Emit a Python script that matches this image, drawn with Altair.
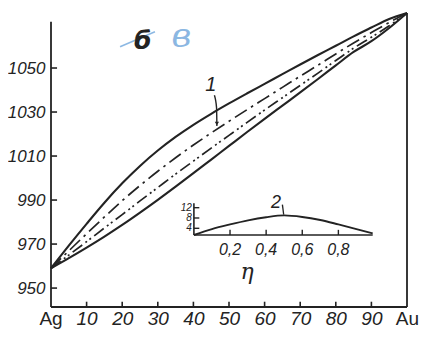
import altair as alt
import pandas as pd

# ---------------- data ----------------
# main diagram: composition (% Au) vs temperature
au_pct = [0, 5, 10, 15, 20, 25, 30, 35, 40, 45, 50, 55, 60, 65, 70, 75, 80, 85, 90, 95, 100]
t_upper = [959, 969.3, 979.2, 988.8, 997.6, 1005.5, 1012.5, 1018.7, 1024.2, 1029.2, 1033.9,
           1038.4, 1042.8, 1047.2, 1051.6, 1055.9, 1060.1, 1064.4, 1068.4, 1072.3, 1075]
t_dash_dot = [959, 966.9, 974.7, 982.3, 989.7, 996.6, 1003.1, 1009.2, 1015.0, 1020.5, 1025.8,
              1031.0, 1036.1, 1041.2, 1046.3, 1051.3, 1056.4, 1061.4, 1066.1, 1070.7, 1075]
t_dash_dot_dot = [959, 965.0, 971.1, 977.3, 983.4, 989.6, 995.7, 1001.8, 1007.7, 1013.6, 1019.4,
                  1025.2, 1030.9, 1036.5, 1042.1, 1047.7, 1053.4, 1059.0, 1064.0, 1069.2, 1075]
t_lower = [959, 963.6, 968.4, 973.4, 978.7, 984.3, 990.1, 996.1, 1002.2, 1008.4, 1014.6,
           1020.8, 1026.9, 1032.9, 1038.9, 1045.0, 1051.2, 1057.3, 1062.2, 1068.2, 1075]

y_ticks = [950, 970, 990, 1010, 1030, 1050]
x_ticks = [10, 20, 30, 40, 50, 60, 70, 80, 90]
x_end_pos = [0, 100]
x_end_labels = ["Ag", "Au"]

# inset: curve 2 vs eta
eta = [0, 0.1, 0.2, 0.3, 0.4, 0.5, 0.6, 0.7, 0.8, 0.9, 0.99]
curve2 = [1.4, 3.7, 5.5, 7.1, 8.3, 9.0, 8.4, 7.2, 5.5, 3.7, 2.0]
eta_ticks = [0.2, 0.4, 0.6, 0.8]
eta_tick_labels = ["0,2", "0,4", "0,6", "0,8"]
v_ticks = [4, 8, 12]
v_tick_labels = ["4", "8", "12"]

# ---------------- layout / style ----------------
W, H = 356, 294
T_MIN, T_MAX = 941.4, 1075
INK = "#232323"
BLUE = "#6fa6dc"
NUM_FONT = "Liberation Sans"

xs = alt.Scale(domain=[0, 100], nice=False, zero=False)
ys = alt.Scale(domain=[T_MIN, T_MAX], nice=False, zero=False)
x_axis = alt.Axis(values=x_ticks, title=None, domain=False, ticks=False, tickSize=0, grid=False,
                  labelPadding=2, labelFont=NUM_FONT, labelFontSize=19, labelFontStyle="italic",
                  labelColor=INK, labelAngle=0, labelFlush=False, labelOverlap=False, format="d")
y_axis = alt.Axis(values=y_ticks, title=None, domain=False, ticks=False, tickSize=0, grid=False,
                  labelPadding=6, labelFont=NUM_FONT, labelFontSize=17, labelFontStyle="italic",
                  labelColor=INK, labelFlush=False, labelOverlap=False, format="d")


def X(field="x"):
    return alt.X(f"{field}:Q", scale=xs, axis=x_axis)


def Y(field="T"):
    return alt.Y(f"{field}:Q", scale=ys, axis=y_axis)


curves = pd.DataFrame({
    "x": au_pct * 4,
    "T": t_upper + t_dash_dot + t_dash_dot_dot + t_lower,
    "s": ["upper"] * 21 + ["dd"] * 21 + ["ddd"] * 21 + ["lower"] * 21,
})

base_curves = alt.Chart(curves)
upper_l = base_curves.transform_filter("datum.s == 'upper'").mark_line(
    color=INK, strokeWidth=2.1, interpolate="monotone").encode(x=X(), y=Y())
lower_l = base_curves.transform_filter("datum.s == 'lower'").mark_line(
    color=INK, strokeWidth=2.1, interpolate="monotone").encode(x=X(), y=Y())
dd_l = base_curves.transform_filter("datum.s == 'dd'").mark_line(
    color=INK, strokeWidth=1.7, strokeDash=[14, 5, 2.5, 5], interpolate="monotone").encode(x=X(), y=Y())
ddd_l = base_curves.transform_filter("datum.s == 'ddd'").mark_line(
    color=INK, strokeWidth=1.7, strokeDash=[12, 4, 2, 3, 2, 4], interpolate="monotone").encode(x=X(), y=Y())

# axis lines of main diagram
frame = pd.DataFrame({"x": [0, 0, 100], "T": [T_MIN, T_MIN, T_MIN],
                      "x2": [0, 100, 100], "T2": [1071, T_MIN, T_MAX]})
frame_l = alt.Chart(frame).mark_rule(color=INK, strokeWidth=1.8).encode(
    x=X(), y=Y(), x2="x2:Q", y2="T2:Q")

yt = pd.DataFrame({"T": y_ticks, "x": [0] * len(y_ticks), "x2": [1.7] * len(y_ticks)})
yt_l = alt.Chart(yt).mark_rule(color=INK, strokeWidth=1.6).encode(x=X(), x2="x2:Q", y=Y())
xt = pd.DataFrame({"x": x_ticks, "T": [T_MIN] * len(x_ticks), "T2": [T_MIN + 2.4] * len(x_ticks)})
xt_l = alt.Chart(xt).mark_rule(color=INK, strokeWidth=1.6).encode(x=X(), y=Y(), y2="T2:Q")

ends = pd.DataFrame({"x": x_end_pos, "lab": x_end_labels})
ag_l = alt.Chart(ends).transform_filter("datum.lab == 'Ag'").mark_text(
    font=NUM_FONT, fontSize=19, color=INK, baseline="top", align="center").encode(
    x=X(), y=alt.value(H + 3), text="lab:N")
au_l = alt.Chart(ends).transform_filter("datum.lab == 'Au'").mark_text(
    font=NUM_FONT, fontSize=19, color=INK, baseline="top", align="right", dx=12).encode(
    x=X(), y=alt.value(H + 3), text="lab:N")

# annotations
one = pd.DataFrame({"x": [44.9], "T": [1042.5], "t": ["1"]})
one_l = alt.Chart(one).mark_text(font=NUM_FONT, fontSize=20, fontStyle="italic", color=INK).encode(
    x=X(), y=Y(), text="t:N")
arrow1 = pd.DataFrame({"x": [45.9, 46.5, 46.6], "T": [1037.6, 1032.0, 1023.6], "o": [0, 1, 2]})
arrow1_l = alt.Chart(arrow1).mark_line(color=INK, strokeWidth=1.4, interpolate="monotone").encode(
    x=X(), y=Y(), order="o:O")
head1 = pd.DataFrame({"x": [46.6], "T": [1024.8]})
head1_l = alt.Chart(head1).mark_point(shape="triangle-down", filled=True, size=18, color=INK, opacity=1).encode(
    x=X(), y=Y())

eta_sym = pd.DataFrame({"x": [55.1], "T": [957.4], "t": ["η"]})
eta_l = alt.Chart(eta_sym).mark_text(font="DejaVu Serif", fontSize=22, fontStyle="italic", color=INK).encode(
    x=X(), y=Y(), text="t:N")

be = pd.DataFrame({"x": [25.8], "T": [1062.3], "t": ["б"]})
be_l = alt.Chart(be).mark_text(font="DejaVu Sans", fontSize=25, fontStyle="italic", fontWeight="bold",
                               color=INK).encode(x=X(), y=Y(), text="t:N")
strike = pd.DataFrame({"x": [19.4], "T": [1059.7], "x2": [29.2], "T2": [1066.5]})
strike_l = alt.Chart(strike).mark_rule(color=BLUE, strokeWidth=1.6, opacity=0.8).encode(
    x=X(), y=Y(), x2="x2:Q", y2="T2:Q")
ve = pd.DataFrame({"x": [36.6], "T": [1064.2], "t": ["в"]})
ve_l = alt.Chart(ve).mark_text(font="DejaVu Serif", fontSize=34, fontStyle="italic", color=BLUE,
                               opacity=0.8).encode(x=X(), y=Y(), text="t:N")

main = alt.layer(frame_l, yt_l, xt_l, upper_l, dd_l, ddd_l, lower_l, ag_l, au_l,
                 one_l, arrow1_l, head1_l, eta_l, strike_l, be_l, ve_l)

# ---------------- inset ----------------
V_MIN, V_MAX = 1.4, 13.7
ixs = alt.Scale(domain=[0, 1], range=[142.9, 323.5], nice=False, zero=False)
iys = alt.Scale(domain=[V_MIN, V_MAX], range=[222, 190.3], nice=False, zero=False)


def IX(field="eta"):
    return alt.X(f"{field}:Q", scale=ixs, axis=None)


def IY(field="v"):
    return alt.Y(f"{field}:Q", scale=iys, axis=None)


c2 = pd.DataFrame({"eta": eta, "v": curve2})
c2_l = alt.Chart(c2).mark_line(color=INK, strokeWidth=1.9, interpolate="monotone").encode(x=IX(), y=IY())

iframe = pd.DataFrame({"eta": [0, 0], "v": [V_MIN, V_MIN], "eta2": [0, 0.99], "v2": [V_MAX, V_MIN]})
iframe_l = alt.Chart(iframe).mark_rule(color=INK, strokeWidth=1.6).encode(
    x=IX(), y=IY(), x2="eta2:Q", y2="v2:Q")
ixt = pd.DataFrame({"eta": eta_ticks, "v": [V_MIN] * 4, "v2": [V_MIN + 2.0] * 4, "lab": eta_tick_labels})
ixt_l = alt.Chart(ixt).mark_rule(color=INK, strokeWidth=1.4).encode(x=IX(), y=IY(), y2="v2:Q")
ixt_lab = alt.Chart(ixt).mark_text(font=NUM_FONT, fontSize=16, fontStyle="italic", color=INK,
                                   baseline="top", dy=7).encode(x=IX(), y=IY(), text="lab:N")
iyt = pd.DataFrame({"v": v_ticks, "eta": [0] * 3, "eta2": [0.03] * 3, "lab": v_tick_labels})
iyt_l = alt.Chart(iyt).mark_rule(color=INK, strokeWidth=1.4).encode(x=IX(), x2="eta2:Q", y=IY())
iyt_lab = alt.Chart(iyt).mark_text(font=NUM_FONT, fontSize=10, fontStyle="italic", color=INK,
                                   align="right", dx=-2).encode(x=IX(), y=IY(), text="lab:N")

two = pd.DataFrame({"eta": [0.455], "v": [14.0], "t": ["2"]})
two_l = alt.Chart(two).mark_text(font=NUM_FONT, fontSize=18, fontStyle="italic", color=INK).encode(
    x=IX(), y=IY(), text="t:N")
arrow2 = pd.DataFrame({"eta": [0.49, 0.497], "v": [13.2, 9.3]})
arrow2_l = alt.Chart(arrow2).mark_line(color=INK, strokeWidth=1.3).encode(x=IX(), y=IY())

inset = alt.layer(iframe_l, ixt_l, iyt_l, c2_l, ixt_lab, iyt_lab, two_l, arrow2_l)

chart = alt.layer(main, inset).resolve_scale(x="independent", y="independent").properties(
    width=W, height=H,
    autosize=alt.AutoSizeParams(type="none"),
    padding={"left": 43, "top": 5, "right": 13, "bottom": 24},
    background="white",
).configure_view(stroke=None)

chart.save("out.html", embed_options={"renderer": "svg", "actions": False})
